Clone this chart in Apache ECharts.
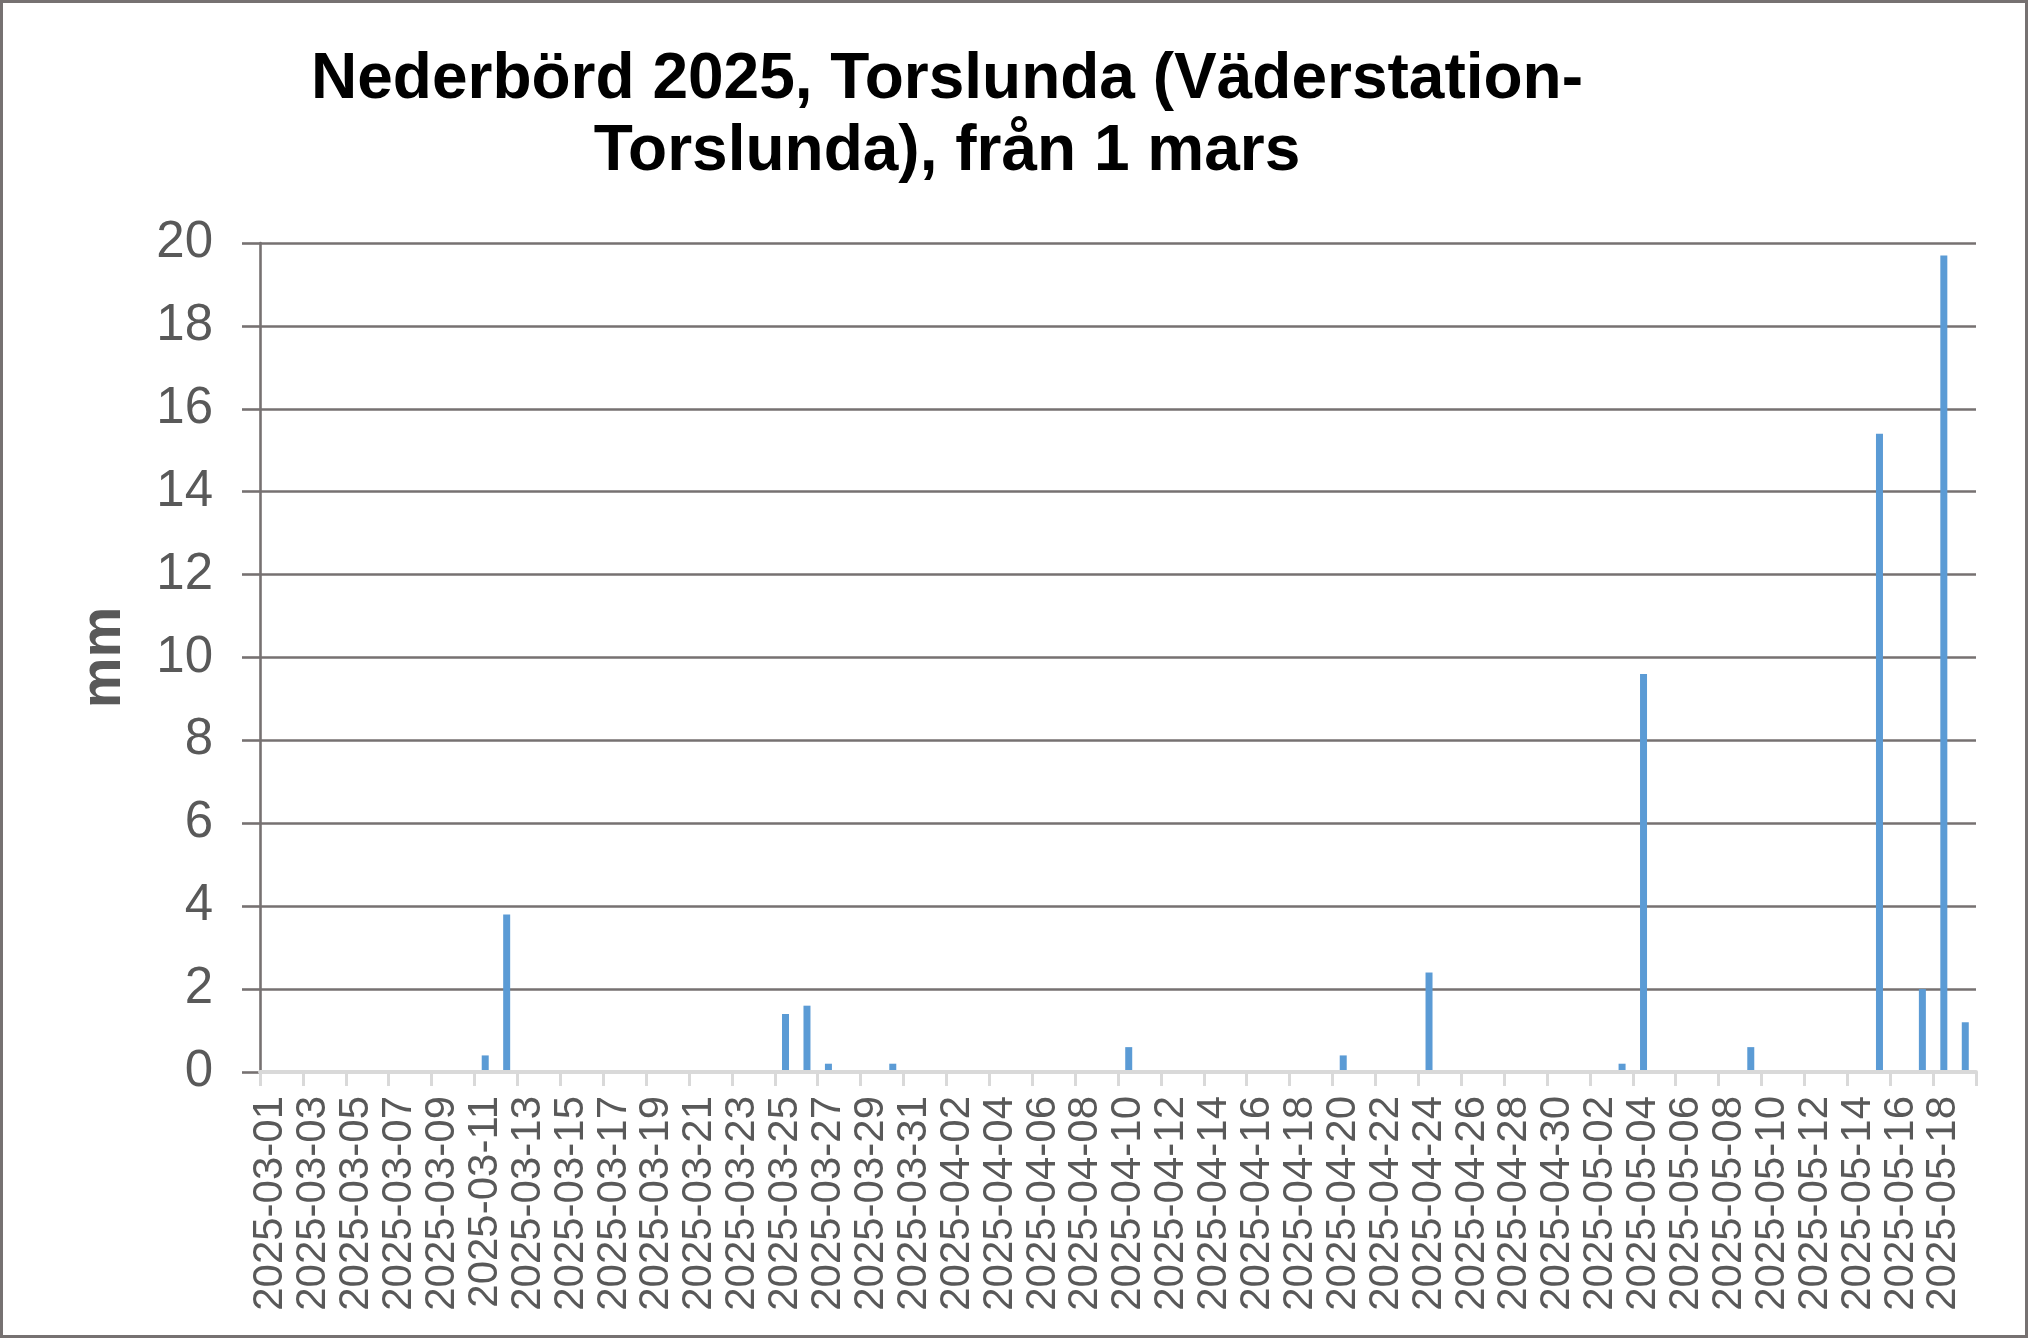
<!DOCTYPE html>
<html>
<head>
<meta charset="utf-8">
<script src="https://cdn.jsdelivr.net/npm/echarts@6/dist/echarts.min.js"></script>
<style>
html, body { margin: 0; padding: 0; background: #ffffff; }
#chart { width: 2028px; height: 1338px; }
</style>
</head>
<body>
<div id="chart"></div>
<script>
// Categories (dates), typed per month
const marchDates = ['2025-03-01','2025-03-02','2025-03-03','2025-03-04','2025-03-05','2025-03-06','2025-03-07','2025-03-08','2025-03-09','2025-03-10','2025-03-11','2025-03-12','2025-03-13','2025-03-14','2025-03-15','2025-03-16','2025-03-17','2025-03-18','2025-03-19','2025-03-20','2025-03-21','2025-03-22','2025-03-23','2025-03-24','2025-03-25','2025-03-26','2025-03-27','2025-03-28','2025-03-29','2025-03-30','2025-03-31'];
const aprilDates = ['2025-04-01','2025-04-02','2025-04-03','2025-04-04','2025-04-05','2025-04-06','2025-04-07','2025-04-08','2025-04-09','2025-04-10','2025-04-11','2025-04-12','2025-04-13','2025-04-14','2025-04-15','2025-04-16','2025-04-17','2025-04-18','2025-04-19','2025-04-20','2025-04-21','2025-04-22','2025-04-23','2025-04-24','2025-04-25','2025-04-26','2025-04-27','2025-04-28','2025-04-29','2025-04-30'];
const mayDates = ['2025-05-01','2025-05-02','2025-05-03','2025-05-04','2025-05-05','2025-05-06','2025-05-07','2025-05-08','2025-05-09','2025-05-10','2025-05-11','2025-05-12','2025-05-13','2025-05-14','2025-05-15','2025-05-16','2025-05-17','2025-05-18','2025-05-19'];

// Precipitation (mm) per day
const marchValues = [0,0,0,0,0,0,0,0,0,0,0.4,3.8,0,0,0,0,0,0,0,0,0,0,0,0,1.4,1.6,0.2,0,0,0.2,0];
const aprilValues = [0,0,0,0,0,0,0,0,0,0.6,0,0,0,0,0,0,0,0,0,0.4,0,0,0,2.4,0,0,0,0,0,0];
const mayValues = [0,0,0.2,9.6,0,0,0,0,0.6,0,0,0,0,0,15.4,0,2.0,19.7,1.2];

const titleText = 'Nederbörd 2025, Torslunda (Väderstation-\nTorslunda), från 1 mars';
const yAxisName = 'mm';

const categories = marchDates.concat(aprilDates, mayDates);
const values = marchValues.concat(aprilValues, mayValues);

const FONT = '"Liberation Sans", Arial, sans-serif';
const chart = echarts.init(document.getElementById('chart'), null, { renderer: 'canvas' });

chart.setOption({
  backgroundColor: '#ffffff',
  animation: false,
  title: {
    text: titleText,
    left: 942,
    top: 39,
    textAlign: 'center',
    textStyle: {
      fontFamily: FONT,
      fontWeight: 'bold',
      fontSize: 64,
      lineHeight: 72,
      color: '#000000'
    }
  },
  graphic: [{
    type: 'rect',
    shape: { x: 1.5, y: 1.5, width: 2025, height: 1335 },
    style: { fill: 'none', stroke: '#767171', lineWidth: 3 },
    silent: true
  }],
  grid: { left: 260, right: 52, top: 243, bottom: 266, containLabel: false },
  xAxis: {
    type: 'category',
    data: categories,
    z: 5,
    boundaryGap: true,
    axisLine: { show: true, lineStyle: { color: '#d9d9d9', width: 4 } },
    axisTick: { show: true, interval: 1, length: 14, lineStyle: { color: '#d9d9d9', width: 3 } },
    axisLabel: {
      interval: 1,
      rotate: 90,
      margin: 24,
      fontFamily: FONT,
      fontSize: 42,
      color: '#595959'
    },
    splitLine: { show: false }
  },
  yAxis: {
    type: 'value',
    min: 0,
    max: 20,
    interval: 2,
    name: yAxisName,
    nameLocation: 'middle',
    nameGap: 127,
    nameTextStyle: { fontFamily: FONT, fontWeight: 'bold', fontSize: 57, color: '#595959' },
    axisLine: { show: true, lineStyle: { color: '#767171', width: 2.6 } },
    axisTick: { show: true, inside: false, length: 18, lineStyle: { color: '#767171', width: 2.6 } },
    axisLabel: { margin: 47, fontFamily: FONT, fontSize: 51, color: '#595959' },
    splitLine: { show: true, lineStyle: { color: '#767171', width: 2.6 } }
  },
  series: [{
    type: 'bar',
    data: values,
    barWidth: 7,
    itemStyle: { color: '#5b9bd5' }
  }]
});
</script>
</body>
</html>
